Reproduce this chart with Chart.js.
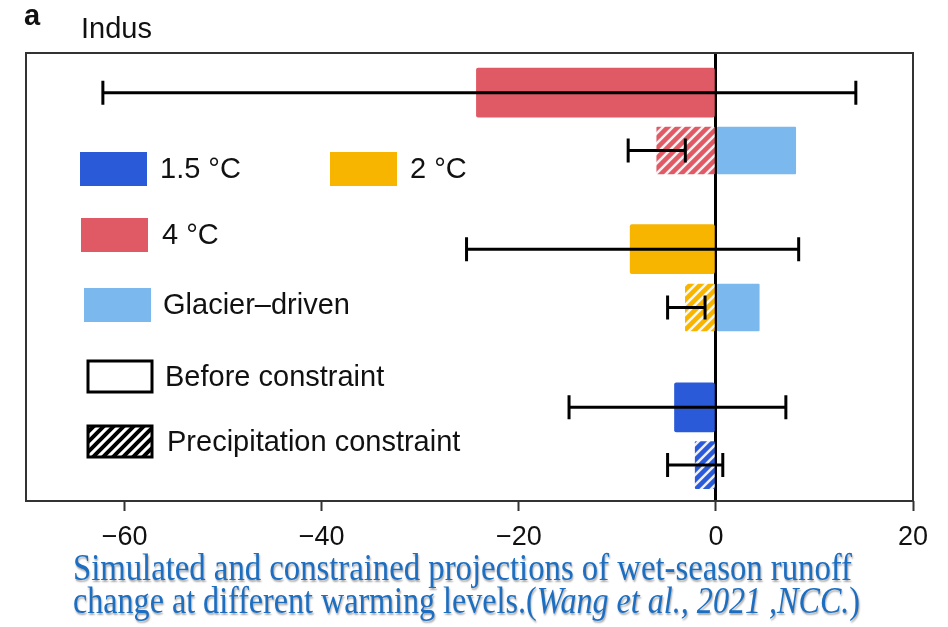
<!DOCTYPE html>
<html>
<head>
<meta charset="utf-8">
<script src="https://cdn.jsdelivr.net/npm/chart.js@4"></script>
<style>
  html, body { margin: 0; padding: 0; background: #fff; }
  #wrap { position: relative; width: 948px; height: 627px; overflow: hidden; }
  #c { position: absolute; left: 0; top: 0; }
  #cap {
    position: absolute; left: 73px; top: 551px;
    font-family: "Liberation Serif", "Times New Roman", serif;
    font-size: 38px; line-height: 33px; color: #1b6ec2;
    text-shadow: 1px 2px 2px rgba(0,0,0,0.35);
  }
  #cap .ln { white-space: nowrap; width: max-content; transform-origin: 0 0; }
</style>
</head>
<body>
<div id="wrap">
  <canvas id="c" width="948" height="627"></canvas>
  <div id="cap">
    <div class="ln" data-w="779">Simulated and constrained projections of wet-season runoff</div>
    <div class="ln" data-w="787">change at different warming levels.(<i>Wang et al., 2021 ,NCC.</i>)</div>
  </div>
</div>
<script>
// Warming levels, top to bottom
const levels = ['4 °C', '2 °C', '1.5 °C'];
// Multi-model mean runoff change (%) before constraint, with its spread
const beforeMean = [-24.3, -8.7, -4.2];
const beforeLow  = [-62.2, -25.3, -14.9];
const beforeHigh = [14.2, 8.4, 7.1];
// After the precipitation constraint
const constrMean = [-6.0, -3.1, -2.1];
const constrLow  = [-8.9, -4.9, -4.9];
const constrHigh = [-3.1, -1.1, 0.7];
// Glacier-driven contribution (no bar at 1.5 °C)
const glacier = [8.1, 4.4, null];
// x-axis ticks
const tickValues = [-60, -40, -20, 0, 20];

// vertical slots on the hidden y axis for each pair of bars
const slotBefore = [0.68, 3.36, 6.07];
const slotConstr = [1.67, 4.36, 7.06];

const levelColor = { '4 °C': '#e05a66', '2 °C': '#f8b500', '1.5 °C': '#2a5ad8' };
const glacierColor = '#7bb8ee';

function hatch(bg, stripe, width) {
  const n = 10;
  const c = document.createElement('canvas');
  c.width = n; c.height = n;
  const g = c.getContext('2d');
  g.fillStyle = bg; g.fillRect(0, 0, n, n);
  g.strokeStyle = stripe; g.lineWidth = width;
  g.beginPath();
  g.moveTo(-2, n + 2); g.lineTo(n + 2, -2);
  g.moveTo(-n / 2 - 2, n / 2 + 2); g.lineTo(n / 2 + 2, -n / 2 - 2);
  g.moveTo(n / 2 - 2, n * 1.5 + 2); g.lineTo(n * 1.5 + 2, n / 2 - 2);
  g.stroke();
  return document.getElementById('c').getContext('2d').createPattern(c, 'repeat');
}

const fmt = v => (v < 0 ? '\u2212' + Math.abs(v) : String(v));

const beforeData = levels.map((l, i) => ({ y: slotBefore[i], x: [beforeMean[i], 0] }));
const constrData = levels.map((l, i) => ({ y: slotConstr[i], x: [constrMean[i], 0] }));
const glacierData = levels.map((l, i) => glacier[i] == null ? null : ({ y: slotConstr[i], x: [0, glacier[i]] })).filter(d => d);

const frame = {
  id: 'frame',
  afterDatasetsDraw(chart) {
    const { ctx, scales: { x, y } } = chart;
    ctx.save();
    ctx.strokeStyle = '#000';
    ctx.lineWidth = 3;
    const cap = 12;
    const bar = (lo, hi, pos) => {
      const py = y.getPixelForValue(pos);
      const x0 = x.getPixelForValue(lo), x1 = x.getPixelForValue(hi);
      ctx.beginPath();
      ctx.moveTo(x0, py); ctx.lineTo(x1, py);
      ctx.moveTo(x0, py - cap); ctx.lineTo(x0, py + cap);
      ctx.moveTo(x1, py - cap); ctx.lineTo(x1, py + cap);
      ctx.stroke();
    };
    levels.forEach((l, i) => {
      bar(beforeLow[i], beforeHigh[i], slotBefore[i]);
      bar(constrLow[i], constrHigh[i], slotConstr[i]);
    });
    ctx.restore();
  },
  afterDraw(chart) {
    const { ctx, chartArea: a } = chart;
    ctx.save();
    // plot frame
    ctx.strokeStyle = '#333';
    ctx.lineWidth = 2;
    ctx.strokeRect(a.left, a.top, a.right - a.left, a.bottom - a.top);

    // panel letter and basin name
    ctx.fillStyle = '#111';
    ctx.textBaseline = 'alphabetic';
    ctx.font = 'bold 29px "Liberation Sans", Arial, sans-serif';
    ctx.fillText('a', 24, 25);
    ctx.font = '29px "Liberation Sans", Arial, sans-serif';
    ctx.fillText('Indus', 81, 38);

    // legend
    const sw = (x0, y0, fill) => { ctx.fillStyle = fill; ctx.fillRect(x0, y0, 67, 34); };
    const label = (t, x0, yc) => {
      ctx.fillStyle = '#111';
      ctx.font = '29px "Liberation Sans", Arial, sans-serif';
      ctx.textBaseline = 'middle';
      ctx.fillText(t, x0, yc);
    };
    sw(80, 152, levelColor['1.5 °C']); label('1.5 °C', 160, 170);
    sw(330, 152, levelColor['2 °C']);  label('2 °C', 410, 170);
    sw(81, 218, levelColor['4 °C']);   label('4 °C', 162, 236);
    sw(84, 288, glacierColor);          label('Glacier\u2013driven', 163, 306);

    ctx.lineWidth = 3; ctx.strokeStyle = '#000';
    ctx.fillStyle = '#fff';
    ctx.fillRect(88, 361, 64, 31);
    ctx.strokeRect(88, 361, 64, 31);
    label('Before constraint', 165, 378);

    ctx.fillStyle = hatch('#fff', '#000', 4);
    ctx.fillRect(88, 426, 64, 31);
    ctx.strokeRect(88, 426, 64, 31);
    label('Precipitation constraint', 167, 443);
    ctx.restore();
  }
};

new Chart(document.getElementById('c'), {
  type: 'bar',
  data: {
    datasets: [
      {
        label: 'Before constraint',
        data: beforeData,
        backgroundColor: levels.map(l => levelColor[l]),
        barThickness: 49, grouped: false, borderRadius: 2, borderSkipped: false
      },
      {
        label: 'Precipitation constraint',
        data: constrData,
        backgroundColor: levels.map(l => hatch(levelColor[l], 'rgba(255,255,255,0.9)', 2.5)),
        barThickness: 47, grouped: false, borderRadius: 1, borderSkipped: false
      },
      {
        label: 'Glacier\u2013driven',
        data: glacierData,
        backgroundColor: glacierColor,
        barThickness: 47, grouped: false, borderRadius: 1, borderSkipped: false
      }
    ]
  },
  options: {
    indexAxis: 'y',
    responsive: false,
    animation: false,
    layout: { padding: { left: 26, right: 35, top: 53, bottom: 0 } },
    plugins: { legend: { display: false }, tooltip: { enabled: false } },
    scales: {
      x: {
        type: 'linear', min: -70, max: 20, position: 'bottom',
        afterBuildTicks: s => { s.ticks = tickValues.map(v => ({ value: v })); },
        afterFit: s => { s.height = 126; },
        border: { display: false },
        grid: {
          color: c => (c.tick && c.tick.value === 0 ? '#000' : 'rgba(0,0,0,0)'),
          lineWidth: c => (c.tick && c.tick.value === 0 ? 3 : 1),
          tickColor: '#333', tickLength: 10, tickWidth: 2
        },
        ticks: {
          font: { family: '"Liberation Sans", Arial, sans-serif', size: 27 },
          color: '#111', padding: 10,
          callback: v => fmt(v)
        }
      },
      y: { type: 'linear', min: 0, max: 7.675, reverse: true, offset: false, display: false }
    }
  },
  plugins: [frame]
});

// fit each caption line to its measured width
document.fonts.ready.then(() => {
  document.querySelectorAll('#cap .ln').forEach(el => {
    const w = el.getBoundingClientRect().width;
    el.style.transform = 'scaleX(' + (Number(el.dataset.w) / w) + ')';
  });
});
</script>
</body>
</html>
